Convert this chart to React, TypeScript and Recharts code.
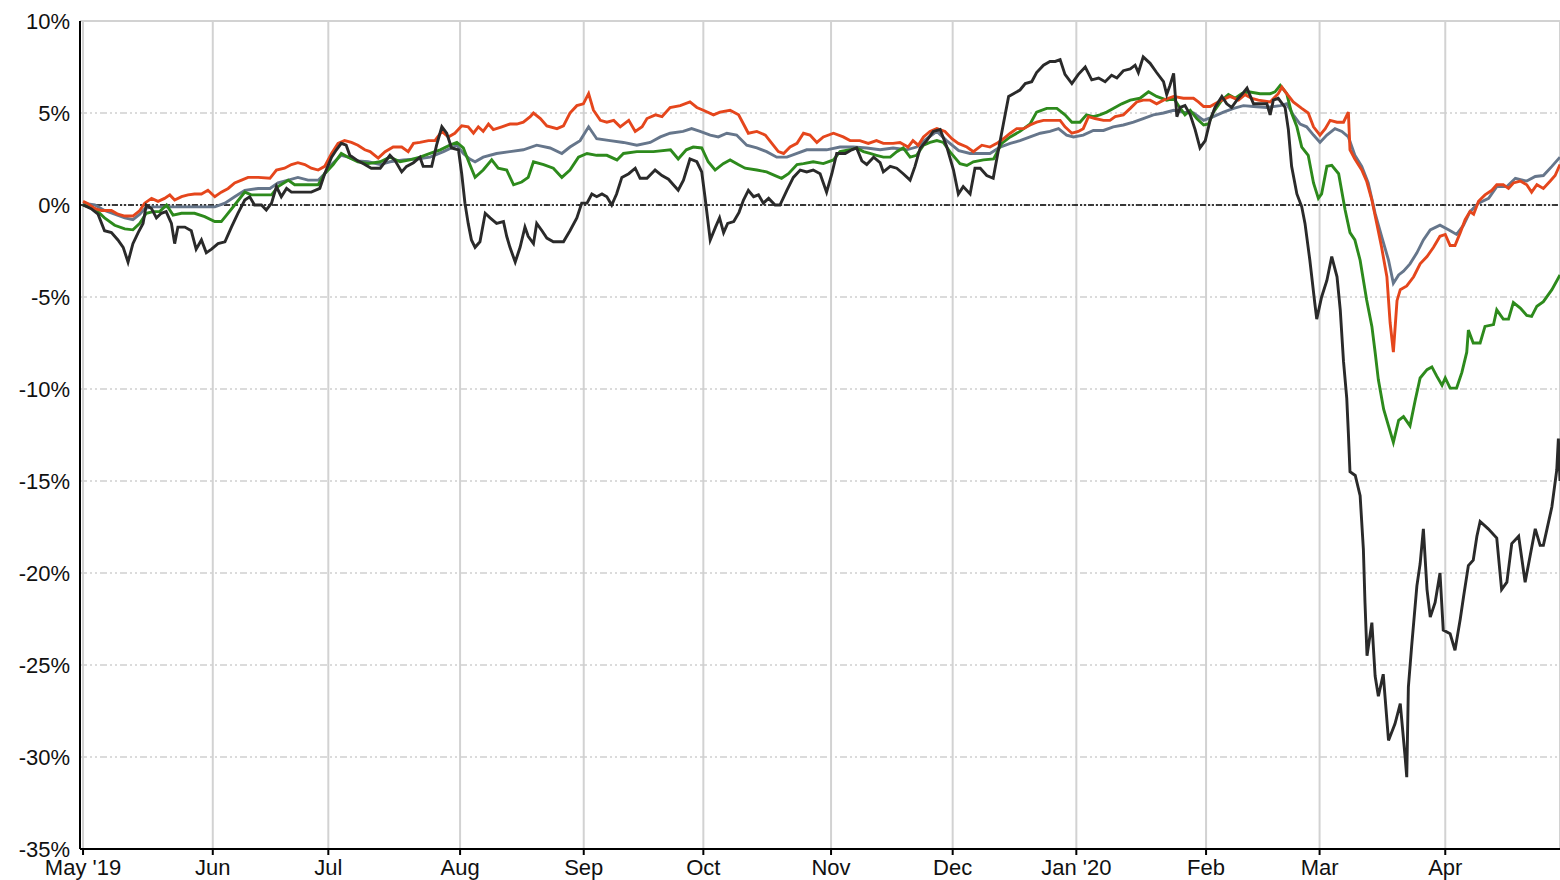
import { CartesianGrid, Line, LineChart, ReferenceLine, XAxis, YAxis } from "recharts"

// x = days since 1 May 2019, y = % change
const monthTicks = [0, 32, 60.5, 93, 123.5, 153, 184.5, 214.5, 245, 277, 305, 336]
const monthLabels = ["May '19", "Jun", "Jul", "Aug", "Sep", "Oct", "Nov", "Dec", "Jan '20", "Feb", "Mar", "Apr"]
const pctTicks = [-35, -30, -25, -20, -15, -10, -5, 0, 5, 10]

const blackSeries: Array<[number, number]> = [
  [0, 0], [2, -0.2], [3.7, -0.5], [5.3, -1.4], [7, -1.5], [8.6, -1.9], [9.9, -2.3], [11.1, -3.1], [12.3, -2.1],
  [13.6, -1.5], [14.8, -1.0], [15.6, 0], [16.9, -0.2], [18.1, -0.7], [19.3, -0.45], [20.5, -0.36], [21.8, -1.0],
  [22.6, -2.1], [23.4, -1.2], [25.1, -1.2], [26.7, -1.4], [27.9, -2.4], [29.2, -1.9], [30.4, -2.6], [31.7, -2.4],
  [33.3, -2.1], [35, -2.0], [36.6, -1.2], [38.2, -0.45], [39.9, 0.27], [41.1, 0.45], [42.3, 0], [44, 0],
  [45.2, -0.27], [46.5, 0.1], [47.7, 1.0], [48.9, 0.45], [50.2, 0.9], [51.4, 0.7], [53, 0.7], [56.3, 0.7],
  [58.4, 0.9], [59.6, 1.7], [61.3, 2.6], [62.5, 3.0], [63.7, 3.35], [64.9, 3.25], [65.8, 2.7], [67.8, 2.4],
  [69.5, 2.2], [71.1, 2.0], [73.3, 2.0], [75.7, 2.7], [77, 2.4], [78.6, 1.8], [79.8, 2.1], [81.5, 2.3],
  [83.1, 2.6], [83.9, 2.1], [86, 2.1], [87.2, 3.25], [88.5, 4.25], [89.7, 3.9], [90.9, 3.1], [92.6, 3.0],
  [93.4, 1.7], [94.2, 0.1], [95, -1.0], [95.8, -1.9], [96.7, -2.3], [97.9, -2.0], [99.2, -0.45], [100.4, -0.7],
  [102, -1.0], [103.7, -0.9], [104.5, -1.7], [105.3, -2.3], [106.6, -3.1], [107.8, -2.3], [109, -1.2],
  [109.8, -1.7], [111.1, -2.1], [111.9, -1.0], [113.2, -1.4], [114.4, -1.8], [116, -2.0], [118.5, -2.0],
  [120.1, -1.4], [121.8, -0.7], [123, 0.1], [124.3, 0.1], [125.5, 0.6], [126.7, 0.45], [128, 0.6], [129.2, 0.45],
  [130.4, 0], [131.6, 0.6], [132.9, 1.5], [134.6, 1.7], [136.2, 2.0], [137.4, 1.45], [139.1, 1.45], [141.1, 1.9],
  [142.8, 1.6], [144.4, 1.4], [145.6, 1.1], [146.8, 0.8], [148.1, 1.35], [149.7, 2.5], [151.4, 2.35], [152.6, 1.8],
  [153.4, 0.45], [154.7, -1.9], [156, -1.2], [157, -0.7], [158, -1.5], [159, -1.0], [160.5, -0.9], [161.8, -0.4],
  [162.9, 0.27], [164.1, 0.8], [165.4, 0.45], [166.6, 0.55], [167.8, 0.1], [169.1, 0.36], [170.7, 0], [171.9, 0],
  [173.6, 0.8], [175.2, 1.5], [176.9, 1.9], [178.5, 1.8], [180.1, 1.9], [181.8, 1.7], [183.4, 0.7], [184.7, 1.7],
  [185.9, 2.8], [188, 2.8], [189.6, 3.0], [190.8, 3.1], [192.1, 2.4], [193.3, 2.2], [195, 2.6], [196.6, 2.3],
  [197.4, 1.8], [199.1, 2.1], [200.7, 2.0], [202.3, 1.7], [204, 1.35], [205.2, 2.1], [206.5, 3.1], [208.1, 3.5],
  [209.7, 4.0], [211.4, 4.1], [213, 3.2], [214.7, 1.9], [215.9, 0.6], [217.1, 1.0], [218.8, 0.6], [220, 2.0],
  [221.3, 2.0], [222.9, 1.6], [224.5, 1.45], [225.8, 3.0], [227, 4.4], [228.3, 5.9], [229.5, 6.05], [231.1, 6.25],
  [232.4, 6.6], [234, 6.7], [235.2, 7.2], [236.9, 7.6], [238.5, 7.8], [239.8, 7.8], [241, 7.9], [242.2, 7.1],
  [243.9, 6.6], [245.5, 7.1], [247.2, 7.5], [248.8, 6.8], [250.5, 6.9], [252.1, 6.7], [253.7, 7.05], [255, 6.9],
  [256.6, 7.3], [258.3, 7.4], [259.5, 7.6], [260.3, 7.2], [261.5, 8.05], [263.2, 7.7], [264.8, 7.2], [266.5, 6.7],
  [267.3, 6.0], [268.1, 6.5], [269, 7.15], [269.8, 4.8], [270.6, 5.3], [271.8, 5.4], [273.1, 4.9], [274.3, 4.1],
  [275.5, 3.1], [276.8, 3.5], [278, 4.6], [279.2, 5.3], [280.9, 5.9], [282.1, 5.5], [283.3, 5.3], [284.6, 5.7],
  [285.8, 6.0], [287.1, 6.35], [288.7, 5.5], [290.3, 5.5], [292, 5.5], [292.8, 4.9], [293.6, 5.7], [294.8, 5.8],
  [296.5, 5.3], [297.3, 4.1], [298.1, 2.1], [299.4, 0.6], [300.6, -0.1], [301.4, -1.0], [302.6, -3.0],
  [303.8, -5.3], [304.3, -6.2], [305.5, -5.0], [306.8, -4.1], [308, -2.8], [309.3, -3.9], [310.1, -5.7],
  [310.9, -8.5], [311.7, -10.5], [312.1, -12.4], [312.5, -14.5], [313.8, -14.7], [315, -15.8], [315.8, -18.7],
  [316.2, -21.6], [316.7, -24.5], [317.9, -22.7], [318.7, -25.6], [319.5, -26.7], [320.7, -25.5], [322, -29.1],
  [323.6, -28.2], [324.9, -27.1], [326.1, -30.0], [326.5, -31.1], [326.9, -26.2], [327.7, -24.0], [329, -20.7],
  [329.8, -19.5], [330.6, -17.6], [331.5, -20.9], [332.3, -22.4], [333.5, -21.6], [334.7, -20.0], [335.5, -23.1],
  [337.2, -23.3], [338.4, -24.2], [339.7, -22.5], [340.5, -21.3], [341.7, -19.6], [342.9, -19.3], [343.8, -18.0],
  [344.6, -17.2], [346.6, -17.6], [348.7, -18.1], [349.9, -20.9], [351.2, -20.5], [352.4, -18.4], [354.1, -18.0],
  [355.7, -20.5], [356.9, -19.1], [358.2, -17.6], [359.4, -18.5], [360.2, -18.5], [361.1, -17.6], [362.3, -16.4],
  [363.5, -14.4], [363.9, -12.7], [364.3, -15.0],
]

const orangeSeries: Array<[number, number]> = [
  [0, 0.2], [1, 0.1], [3, -0.2], [4.5, -0.3], [7, -0.3], [8.6, -0.5], [10.3, -0.6], [12.3, -0.6], [14, -0.3],
  [15.2, 0.1], [16.9, 0.36], [18.5, 0.2], [20.1, 0.36], [21.4, 0.55], [22.6, 0.27], [24.3, 0.45], [25.9, 0.55],
  [27.5, 0.6], [29.2, 0.6], [30.8, 0.8], [32.5, 0.45], [34.1, 0.7], [35.8, 0.9], [37.4, 1.2], [39.1, 1.35],
  [40.7, 1.5], [43.2, 1.5], [46.1, 1.45], [47.7, 1.9], [49.7, 2.0], [51.4, 2.2], [53, 2.3], [54.7, 2.2], [56.3, 2.0],
  [58, 1.9], [59.6, 2.1], [61.3, 2.8], [62.9, 3.35], [64.5, 3.5], [66.2, 3.4], [67.8, 3.25], [69.5, 3.0],
  [70.8, 2.9], [72.8, 2.55], [74.5, 2.9], [76.5, 3.15], [78.6, 3.15], [80.2, 2.9], [81.5, 3.35], [83.1, 3.4],
  [85.2, 3.5], [86.8, 3.5], [88.5, 4.0], [90.1, 3.7], [91.7, 3.9], [93.4, 4.3], [95, 4.25], [96.3, 3.9],
  [97.5, 4.25], [98.7, 4.0], [100, 4.4], [101.2, 4.1], [103.3, 4.25], [105.3, 4.4], [107, 4.4], [108.6, 4.5],
  [110.3, 4.8], [111.1, 5.0], [112.8, 4.7], [114.4, 4.3], [116.9, 4.15], [118.5, 4.3], [120.1, 5.0], [121.8, 5.4],
  [123.4, 5.5], [124.7, 6.05], [125.9, 5.15], [127.6, 4.6], [129.2, 4.5], [130.9, 4.6], [132.5, 4.25], [134.6, 4.6],
  [136.2, 4.0], [137.9, 4.25], [139.1, 4.7], [141.2, 4.9], [142.8, 4.8], [144.8, 5.3], [147.3, 5.4], [149.7, 5.6],
  [151.4, 5.3], [153, 5.15], [155.5, 4.9], [157.1, 5.05], [159.6, 5.15], [161.7, 4.9], [162.9, 4.4], [164.1, 3.9],
  [166.2, 4.0], [168.3, 3.8], [169.9, 3.35], [171.5, 2.9], [172.8, 2.8], [174.4, 3.15], [176.1, 3.35],
  [177.7, 3.9], [179.3, 3.8], [181, 3.4], [182.6, 3.7], [185.1, 3.9], [187.5, 3.7], [189.2, 3.5], [191.6, 3.5],
  [193.7, 3.35], [195.7, 3.5], [197.4, 3.35], [199.8, 3.35], [201.5, 3.4], [203.5, 3.15], [204.7, 3.5], [206, 3.25],
  [207.3, 3.7], [208.9, 4.0], [210.6, 4.15], [212.6, 4.0], [214.3, 3.6], [215.9, 3.35], [218, 3.15], [219.6, 2.9],
  [221.7, 3.25], [223.7, 3.15], [225.4, 3.35], [227, 3.6], [228.7, 3.9], [230.3, 4.15], [232, 4.15], [233.6, 4.35],
  [235.2, 4.5], [236.9, 4.6], [239.3, 4.6], [241, 4.6], [242.2, 4.25], [243.9, 3.9], [245.5, 4.0], [246.7, 4.15],
  [248, 4.8], [249.6, 4.7], [251.7, 4.6], [253.3, 4.6], [254.6, 4.8], [256.6, 4.9], [258.3, 5.25], [259.9, 5.6],
  [261.5, 5.7], [263.2, 5.7], [264.8, 5.5], [266.5, 5.7], [269, 5.9], [271.4, 5.8], [273.9, 5.8], [275.1, 5.6],
  [276.4, 5.35], [278, 5.35], [279.2, 5.5], [280.9, 5.7], [282.9, 5.9], [285, 5.7], [286.6, 6.0], [288.3, 5.8],
  [289.9, 5.7], [292.8, 5.6], [294.8, 6.05], [295.7, 6.4], [296.9, 6.05], [298.5, 5.6], [300.6, 5.25], [302.2, 5.0],
  [303.5, 4.25], [305.1, 3.8], [306.4, 4.15], [307.6, 4.6], [309.3, 4.5], [310.9, 4.5], [312.1, 5.05], [312.5, 3.0],
  [313.7, 2.5], [315.4, 1.9], [316.6, 1.3], [317.9, 0.27], [319.1, -1.0], [320.3, -2.3], [321.6, -3.9],
  [322.4, -6.4], [323.2, -8.0], [324.1, -5.2], [324.9, -4.6], [326.5, -4.4], [328.2, -3.9], [329.8, -3.2],
  [331.5, -2.8], [333.1, -2.3], [334.7, -1.7], [336, -1.6], [337.2, -2.2], [338.4, -2.2], [339.7, -1.5],
  [340.9, -0.8], [342.1, -0.36], [343, -0.5], [344.2, 0.2], [345.8, 0.55], [347.5, 0.8], [348.7, 1.1],
  [350.3, 1.1], [351.6, 0.9], [352.8, 1.2], [354.5, 1.3], [356.1, 1.1], [357.3, 0.7], [358.6, 1.1], [360.2, 0.9],
  [361.9, 1.3], [363.1, 1.6], [364.3, 2.2],
]

const greySeries: Array<[number, number]> = [
  [0, 0.1], [2.9, 0], [5.3, -0.3], [7.8, -0.5], [10.3, -0.7], [12.3, -0.8], [14, -0.5], [15.2, -0.2], [16.9, -0.1],
  [23.4, -0.1], [27.5, -0.1], [32.5, -0.1], [35, 0.1], [37.4, 0.45], [39.9, 0.8], [43.2, 0.9], [46.1, 0.9],
  [48.1, 1.2], [50.6, 1.35], [53, 1.5], [55.5, 1.35], [58, 1.35], [59.6, 1.7], [61.3, 2.2], [63.7, 2.7],
  [65.4, 2.6], [67.8, 2.4], [70.3, 2.35], [73.3, 2.2], [75.7, 2.35], [79, 2.45], [82.3, 2.5], [85.6, 2.6],
  [88.9, 2.9], [92.2, 3.25], [93.8, 2.8], [95.4, 2.5], [96.7, 2.35], [98.7, 2.6], [102, 2.8], [105.3, 2.9],
  [108.6, 3.0], [111.9, 3.25], [115.2, 3.1], [118.1, 2.8], [120.1, 3.15], [122.6, 3.5], [124.7, 4.25], [126.7, 3.6],
  [130, 3.5], [133.3, 3.4], [136.6, 3.25], [139.9, 3.4], [142.4, 3.7], [144.8, 3.9], [148, 4.0], [150.1, 4.15],
  [152.2, 4.0], [154.7, 3.8], [156.7, 3.7], [158.8, 3.9], [161.2, 3.8], [163.7, 3.25], [166.2, 3.1], [168.6, 2.9],
  [171.1, 2.6], [173.6, 2.6], [176.1, 2.8], [178.5, 3.0], [181, 3.0], [183.4, 3.0], [186.7, 3.15], [190, 3.15],
  [193.3, 3.1], [196.6, 3.0], [199.8, 3.1], [203.1, 3.0], [205.6, 3.15], [208.1, 3.6], [210.6, 4.0], [213, 3.5],
  [216, 2.95], [218.8, 2.8], [221.2, 2.8], [223.7, 2.8], [226.2, 3.15], [228.7, 3.35], [231.1, 3.5], [233.6, 3.7],
  [236.1, 3.9], [238.5, 4.0], [240.6, 4.15], [242.6, 3.8], [244.3, 3.7], [246.7, 3.8], [249.2, 4.05], [251.7, 4.05],
  [254.1, 4.25], [256.6, 4.35], [259.1, 4.5], [261.5, 4.7], [264, 4.9], [266.5, 5.0], [269, 5.15], [271.4, 5.05],
  [273.9, 5.0], [276.4, 4.6], [278.8, 4.8], [281.3, 5.05], [283.8, 5.25], [286.2, 5.4], [288.7, 5.35], [292, 5.3],
  [295.3, 5.4], [296.9, 5.5], [298.5, 4.9], [300.2, 4.4], [301.8, 4.25], [303.5, 3.8], [305.1, 3.4], [306.8, 3.8],
  [308.8, 4.15], [310.5, 4.0], [312.1, 3.7], [313.7, 2.7], [315.4, 2.1], [317, 1.2], [318.7, -0.45], [320.3, -1.7],
  [322, -3.0], [323.2, -4.25], [324.5, -3.8], [325.7, -3.6], [327.3, -3.2], [329, -2.6], [330.6, -1.9],
  [332.3, -1.35], [334.7, -1.1], [336.8, -1.35], [338.8, -1.6], [340.5, -1.1], [342.1, -0.36], [344.2, 0.1],
  [346.7, 0.36], [348.7, 1.0], [351.2, 1.0], [353.3, 1.45], [356.1, 1.3], [358.2, 1.55], [360.2, 1.6],
  [362.3, 2.1], [364.3, 2.6],
]

const greenSeries: Array<[number, number]> = [
  [0, 0], [2.9, -0.2], [5.3, -0.7], [7.8, -1.1], [10.3, -1.3], [12.3, -1.35], [14, -1.0], [15.6, -0.45],
  [17.3, -0.36], [18.9, -0.36], [20.6, 0], [22.2, -0.55], [24.3, -0.45], [27.5, -0.45], [30, -0.63], [32.5, -0.9],
  [34.1, -0.9], [35.4, -0.55], [37.4, 0], [39.9, 0.7], [41.5, 0.55], [44.8, 0.55], [46.5, 0.55], [48.1, 1.0],
  [50.6, 1.35], [52.2, 1.1], [55.5, 1.1], [58, 1.1], [59.6, 1.7], [61.7, 2.2], [63.7, 2.8], [65.4, 2.6],
  [67.8, 2.35], [70.3, 2.25], [73.3, 2.35], [75.7, 2.6], [78.2, 2.35], [80.6, 2.45], [83.1, 2.6], [85.6, 2.8],
  [88.1, 3.0], [90.5, 3.25], [92.2, 3.4], [93.8, 3.1], [95.4, 2.2], [96.7, 1.5], [98.7, 1.9], [100.8, 2.45],
  [102.4, 2.0], [104.5, 1.9], [106.2, 1.1], [108.2, 1.25], [109.8, 1.5], [111.1, 2.35], [113.6, 2.2], [116, 2.0],
  [118.1, 1.5], [120.1, 1.9], [122.2, 2.6], [124.3, 2.8], [126.7, 2.7], [129.2, 2.7], [131.7, 2.45], [133.3, 2.8],
  [136.6, 2.9], [140.7, 2.9], [144.9, 3.0], [146.8, 2.5], [148.8, 3.0], [150.5, 3.15], [152.6, 3.1], [154.2, 2.35],
  [155.9, 1.9], [157.9, 2.25], [159.6, 2.45], [161.6, 2.2], [163.3, 2.0], [166.2, 1.9], [168.6, 1.8], [170.7, 1.6],
  [172.3, 1.45], [174, 1.7], [176.1, 2.2], [177.7, 2.25], [180.1, 2.35], [182.6, 2.25], [185.1, 2.45], [186.7, 2.9],
  [189.2, 3.0], [190.8, 3.1], [192.5, 2.9], [194.1, 2.8], [195.7, 2.7], [197.4, 2.6], [199.1, 2.6], [200.7, 2.9],
  [202.3, 3.1], [204, 2.6], [205.6, 2.7], [207.3, 3.25], [208.9, 3.4], [210.6, 3.5], [212.2, 3.4], [213.8, 2.9],
  [216.3, 2.25], [218, 2.15], [219.6, 2.35], [222.1, 2.45], [224.6, 2.5], [226.6, 3.35], [228.7, 3.7], [231.1, 4.0],
  [233.6, 4.4], [235.2, 5.05], [237.7, 5.25], [240.2, 5.25], [242.2, 4.9], [243.9, 4.5], [245.9, 4.5], [247.5, 4.9],
  [249.2, 4.8], [250.8, 4.9], [252.5, 5.05], [254.1, 5.25], [256.2, 5.5], [258.3, 5.7], [260.7, 5.8], [262.8, 6.15],
  [264.8, 5.9], [267.3, 5.7], [269, 5.8], [270.2, 5.4], [271.8, 4.9], [273.1, 5.15], [274.7, 4.7], [276.4, 4.35],
  [277.6, 4.4], [278.8, 5.05], [280.9, 5.7], [282.5, 6.0], [284.2, 5.8], [285.8, 6.05], [287.5, 6.15], [290.3, 6.05],
  [292.8, 6.05], [294, 6.15], [295.3, 6.5], [296.9, 6.05], [298.1, 5.0], [299.4, 4.25], [300.6, 3.15], [302.2, 2.7],
  [303.5, 1.2], [304.7, 0.36], [305.5, 0.6], [306.8, 2.1], [308, 2.15], [309.7, 1.7], [311.3, -0.27], [312.5, -1.5],
  [313.7, -1.9], [315, -3.0], [316.6, -5.15], [317.9, -6.6], [318.7, -8.0], [319.5, -9.5], [320.8, -11.1],
  [322, -12.0], [323.2, -12.9], [324.5, -11.7], [325.7, -11.5], [327.3, -12.0], [328.6, -10.6], [329.8, -9.4],
  [331.5, -8.95], [332.7, -8.8], [333.9, -9.3], [335.2, -9.8], [336, -9.4], [337.2, -9.95], [338.8, -9.95],
  [340.1, -9.1], [341.3, -8.0], [341.7, -6.8], [342.9, -7.5], [344.6, -7.5], [345.8, -6.6], [347.9, -6.5],
  [348.7, -5.7], [350.3, -6.2], [351.6, -6.2], [352.8, -5.3], [354.5, -5.6], [356.1, -6.0], [357.3, -6.05],
  [358.6, -5.5], [360.2, -5.25], [362.3, -4.6], [364.3, -3.8],
]

const toRows = (s: Array<[number, number]>) => s.map(([d, v]) => ({ d, v }))

const tickStyle = { fill: "#111", fontSize: 22 }

export default function App() {
  return (
    <div
      style={{
        position: "absolute",
        left: 0,
        top: 0,
        width: 1560,
        height: 880,
        background: "#fff",
        fontFamily: "'Liberation Sans', Arial, sans-serif",
      }}
    >
      <LineChart width={1560} height={880} margin={{ top: 21, right: 0, bottom: 0, left: 0 }}>
        <CartesianGrid horizontal={false} stroke="#d2d2d2" strokeWidth={2} />
        <CartesianGrid vertical={false} stroke="#cfcfcf" strokeWidth={1.5} strokeDasharray="7 3 2 3 2 3" />
        <XAxis
          dataKey="d"
          type="number"
          domain={[-0.75, 364.3]}
          allowDataOverflow
          ticks={monthTicks}
          interval={0}
          tickFormatter={(_v, i) => monthLabels[i]}
          height={31}
          tick={tickStyle}
          tickSize={6}
          tickMargin={4}
          axisLine={{ stroke: "#000", strokeWidth: 2 }}
          tickLine={{ stroke: "#000", strokeWidth: 2 }}
        />
        <YAxis
          type="number"
          domain={[-35, 10]}
          ticks={pctTicks}
          interval={0}
          tickFormatter={(v) => `${v}%`}
          width={80}
          tick={tickStyle}
          tickSize={6}
          tickMargin={4}
          tickLine={false}
          axisLine={{ stroke: "#000", strokeWidth: 2 }}
        />
        <ReferenceLine y={10} stroke="#d2d2d2" strokeWidth={2} />
        <ReferenceLine y={0} stroke="#000" strokeWidth={1.5} strokeDasharray="6 2 2 2 2 2" />
        <Line data={toRows(greySeries)} dataKey="v" stroke="#66768b" strokeWidth={2.9} dot={false} isAnimationActive={false} />
        <Line data={toRows(greenSeries)} dataKey="v" stroke="#2d8a1c" strokeWidth={2.9} dot={false} isAnimationActive={false} />
        <Line data={toRows(orangeSeries)} dataKey="v" stroke="#e5461c" strokeWidth={2.9} dot={false} isAnimationActive={false} />
        <Line data={toRows(blackSeries)} dataKey="v" stroke="#2a2a2a" strokeWidth={2.9} dot={false} isAnimationActive={false} />
      </LineChart>
    </div>
  )
}
